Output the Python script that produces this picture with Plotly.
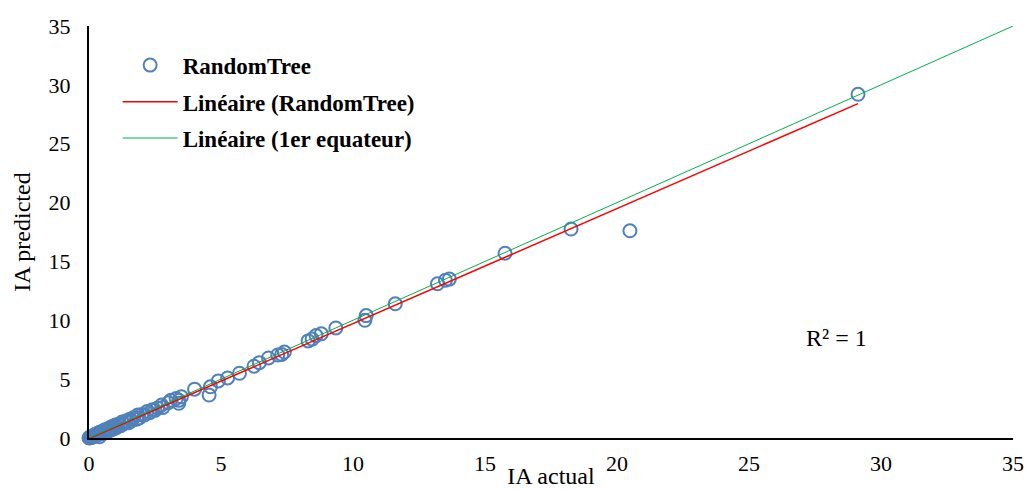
import plotly.graph_objects as go

ia_actual = [0.0, 0.02, 0.05, 0.08, 0.1, 0.12, 0.15, 0.18, 0.2, 0.22, 0.25, 0.28, 0.3, 0.33, 0.35,
             0.38, 0.4, 0.42, 0.45, 0.5, 0.55, 0.6, 0.65, 0.7, 0.75, 0.8, 0.85, 0.9, 0.95, 1.0,
             1.05, 1.1, 1.2, 1.25, 1.3, 1.4, 1.5, 1.55, 1.6, 1.7, 1.8, 1.85, 1.9, 2.0, 2.1,
             2.2, 2.3, 2.4, 2.5, 2.6, 2.75, 2.8, 3.0, 3.1, 3.3, 3.4, 3.4, 3.5, 4.0, 4.55,
             4.6, 4.9, 5.25, 5.7, 6.25, 6.45, 6.8, 7.15, 7.3, 7.4, 8.3, 8.45, 8.6, 8.8, 9.35,
             10.45, 10.5, 11.6, 13.2, 13.5, 13.65, 15.76, 18.26, 20.49, 29.13]
ia_predicted = [0.0, 0.05, 0.02, 0.1, 0.05, 0.15, 0.1, 0.2, 0.15, 0.3, 0.2, 0.35, 0.25, 0.4, 0.3,
                0.45, 0.1, 0.5, 0.35, 0.55, 0.45, 0.7, 0.5, 0.75, 0.6, 0.9, 0.7, 1.0, 0.8, 1.1,
                0.9, 1.15, 1.05, 1.35, 1.2, 1.45, 1.3, 1.6, 1.45, 1.75, 1.6, 1.95, 1.7, 2.0, 1.95,
                2.25, 2.15, 2.4, 2.35, 2.55, 2.8, 2.6, 3.0, 3.2, 3.35, 3.2, 2.95, 3.5, 4.15, 3.65,
                4.35, 4.85, 5.1, 5.5, 6.1, 6.4, 6.8, 7.05, 7.1, 7.3, 8.25, 8.4, 8.7, 8.85, 9.35,
                10.0, 10.4, 11.4, 13.1, 13.4, 13.5, 15.7, 17.75, 17.6, 29.2]

trend_slope = 0.977
trend_intercept = -0.05
ref_x = [0, 35]
r2_text = "R² = 1"

font_family = "Liberation Serif, Times New Roman, serif"

fig = go.Figure()
fig.add_trace(go.Scatter(
    x=ia_actual, y=ia_predicted, mode="markers", name="RandomTree", legend="legend",
    marker=dict(symbol="circle-open", size=13, color="#4F81BD", line=dict(width=2, color="#4F81BD")),
    cliponaxis=False,
))
tx = [min(ia_actual), max(ia_actual)]
ty = [trend_slope * v + trend_intercept for v in tx]
fig.add_trace(go.Scatter(x=tx, y=ty, mode="lines", name="Linéaire (RandomTree)", legend="legend2",
                         line=dict(color="#FF0000", width=1.5)))
fig.add_trace(go.Scatter(x=ref_x, y=ref_x, mode="lines", name="Linéaire (1er equateur)", legend="legend3",
                         line=dict(color="#00B050", width=1)))

fig.add_annotation(x=28.3, y=8.5, text=r2_text, showarrow=False, xref="x", yref="y",
                   font=dict(family=font_family, size=24, color="black"))

axis_common = dict(range=[0, 35], dtick=5, showgrid=False, zeroline=False, automargin=False,
                   showline=True, linecolor="black", linewidth=2, ticks="",
                   tickfont=dict(family=font_family, size=22, color="black"))
fig.update_xaxes(**axis_common, ticklabelstandoff=5,
                 title=dict(text="IA actual", font=dict(family=font_family, size=24, color="black"), standoff=5))
fig.update_yaxes(**axis_common, ticklabelstandoff=12,
                 title=dict(text="IA predicted", font=dict(family=font_family, size=24, color="black"), standoff=11))

leg_font = dict(family=font_family, size=23, color="black", weight="bold")
leg_common = dict(x=0.031, xanchor="left", yanchor="middle", font=leg_font, itemwidth=55,
                  bgcolor="rgba(0,0,0,0)")
fig.update_layout(
    width=1028, height=489,
    margin=dict(l=89, r=15, t=26, b=51),
    plot_bgcolor="white", paper_bgcolor="white",
    showlegend=True,
    legend=dict(y=0.905, **leg_common),
    legend2=dict(y=0.816, **leg_common),
    legend3=dict(y=0.728, **leg_common),
)
fig.write_html("out.html", config={"displayModeBar": False},
               post_script="document.body.style.margin='0';document.body.style.overflow='hidden';")
